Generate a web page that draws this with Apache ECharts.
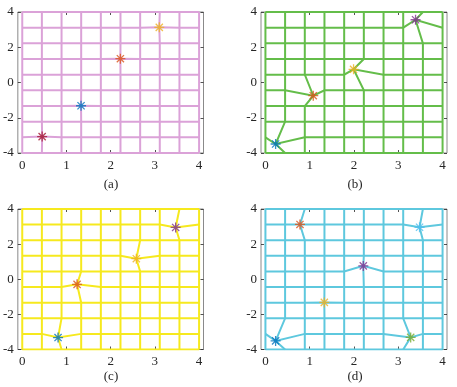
<!DOCTYPE html>
<html>
<head>
<meta charset="utf-8">
<script src="https://cdn.jsdelivr.net/npm/echarts@6/dist/echarts.min.js"></script>
<style>
html,body{margin:0;padding:0;background:#fff;}
#chart{width:457px;height:387px;}
</style>
</head>
<body>
<div id="chart"></div>
<script>
// Regular mesh node coordinates (10 x 10 nodes)
const xNodes = [0, 0.444, 0.889, 1.333, 1.778, 2.222, 2.667, 3.111, 3.556, 4];
const yNodes = [-4, -3.111, -2.222, -1.333, -0.444, 0.444, 1.333, 2.222, 3.111, 4];

// Tick labels
const xTicks = [0, 1, 2, 3, 4];
const yTicks = [-4, -2, 0, 2, 4];

// Panel labels
const panelLabels = ['(a)', '(b)', '(c)', '(d)'];

// Moved nodes per panel: [column index, row index, new x, new y]
const movedA = [[1, 1, 0.45, -3.07], [3, 3, 1.33, -1.32], [5, 6, 2.22, 1.35], [7, 8, 3.10, 3.13]];
const movedB = [[1, 1, 0.23, -3.49], [2, 4, 1.08, -0.75], [5, 5, 1.99, 0.75], [8, 8, 3.39, 3.56]];
const movedC = [[2, 1, 0.81, -3.32], [3, 4, 1.24, -0.29], [6, 6, 2.58, 1.17], [8, 8, 3.47, 2.95]];
const movedD = [[1, 1, 0.23, -3.51], [2, 8, 0.78, 3.12], [3, 3, 1.33, -1.32], [5, 5, 2.21, 0.76], [7, 1, 3.28, -3.31], [8, 8, 3.48, 2.96]];

// Star colours per panel
const starColorsA = ['#A2142F', '#0072BD', '#D95319', '#EDB120'];
const starColorsB = ['#0072BD', '#D95319', '#EDB120', '#7E2F8E'];
const starColorsC = ['#0072BD', '#D95319', '#EDB120', '#7E2F8E'];
const starColorsD = ['#0072BD', '#D95319', '#EDB120', '#7E2F8E', '#77AC30', '#4DBEEE'];

// Mesh colours per panel
const meshColors = ['#DBA2D8', '#64BD4A', '#F6E91E', '#5EC8DE'];

const panels = [
  {moved: movedA, colors: starColorsA},
  {moved: movedB, colors: starColorsB},
  {moved: movedC, colors: starColorsC},
  {moved: movedD, colors: starColorsD}
];

// Layout (pixels)
const gridBoxes = [
  {left: 17.5, top: 12, width: 186, height: 141},
  {left: 261, top: 12, width: 186, height: 141},
  {left: 17.5, top: 209, width: 186, height: 140.5},
  {left: 261, top: 209, width: 186, height: 140.5}
];
const labelPos = [[111, 185], [355, 185], [111, 377], [355, 377]];

const FONT = '"Liberation Serif", "DejaVu Serif", serif';
const FS = 13;
const starPath = 'path://M0,-5L0,5M-5,0L5,0M-3.6,-3.6L3.6,3.6M-3.6,3.6L3.6,-3.6';

function nodeGrid(moved) {
  const pts = [];
  for (let i = 0; i < xNodes.length; i++) {
    pts.push([]);
    for (let j = 0; j < yNodes.length; j++) pts[i].push([xNodes[i], yNodes[j]]);
  }
  moved.forEach(m => { pts[m[0]][m[1]] = [m[2], m[3]]; });
  return pts;
}

const grid = [], xAxis = [], yAxis = [], series = [], graphic = [];
panels.forEach((p, k) => {
  const b = gridBoxes[k];
  grid.push({left: b.left, top: b.top, width: b.width, height: b.height,
    show: true, borderColor: '#8a8a8a', borderWidth: 1, backgroundColor: 'transparent'});
  const tickStyle = {show: true, inside: true, length: 3, lineStyle: {color: '#262626', width: 0.8}};
  const lineOff = {show: false, onZero: false};
  xAxis.push({gridIndex: k, type: 'value', min: -0.1, max: 4.1, position: 'bottom',
    axisLine: lineOff, splitLine: {show: false},
    axisTick: Object.assign({customValues: xTicks}, tickStyle),
    axisLabel: {customValues: xTicks, margin: 6, fontFamily: FONT, fontSize: FS, color: '#262626'}});
  xAxis.push({gridIndex: k, type: 'value', min: -0.1, max: 4.1, position: 'top',
    axisLine: lineOff, splitLine: {show: false},
    axisTick: Object.assign({customValues: xTicks}, tickStyle),
    axisLabel: {show: false}});
  yAxis.push({gridIndex: k, type: 'value', min: yTicks[0], max: yTicks[yTicks.length - 1], interval: 2, position: 'left',
    axisLine: lineOff, splitLine: {show: false},
    axisTick: tickStyle,
    axisLabel: {margin: 4, fontFamily: FONT, fontSize: FS, color: '#262626',
      formatter: v => (v < 0 ? '-' + Math.abs(v) : String(v))}});
  yAxis.push({gridIndex: k, type: 'value', min: yTicks[0], max: yTicks[yTicks.length - 1], interval: 2, position: 'right',
    axisLine: lineOff, splitLine: {show: false},
    axisTick: tickStyle, axisLabel: {show: false}});

  const pts = nodeGrid(p.moved);
  const lines = [];
  for (let j = 0; j < yNodes.length; j++) {
    const row = [];
    for (let i = 0; i < xNodes.length; i++) row.push(pts[i][j]);
    lines.push({coords: row});
  }
  for (let i = 0; i < xNodes.length; i++) lines.push({coords: pts[i].slice()});
  series.push({type: 'lines', coordinateSystem: 'cartesian2d', xAxisIndex: 2 * k, yAxisIndex: 2 * k,
    polyline: true, silent: true, z: 2,
    lineStyle: {color: meshColors[k], width: 2, opacity: 1},
    data: lines});
  series.push({type: 'scatter', xAxisIndex: 2 * k, yAxisIndex: 2 * k, z: 5, silent: true,
    symbol: starPath, symbolSize: 10,
    data: p.moved.map((m, n) => ({value: [m[2], m[3]],
      itemStyle: {color: p.colors[n], borderColor: p.colors[n], borderWidth: 1.3}}))});
  graphic.push({type: 'text', x: labelPos[k][0], y: labelPos[k][1],
    style: {text: panelLabels[k], font: FS + 'px ' + FONT, fill: '#262626',
      textAlign: 'center', textVerticalAlign: 'middle'}});
});

const chart = echarts.init(document.getElementById('chart'), null, {renderer: 'canvas'});
chart.setOption({animation: false, grid, xAxis, yAxis, series, graphic});
</script>
</body>
</html>
